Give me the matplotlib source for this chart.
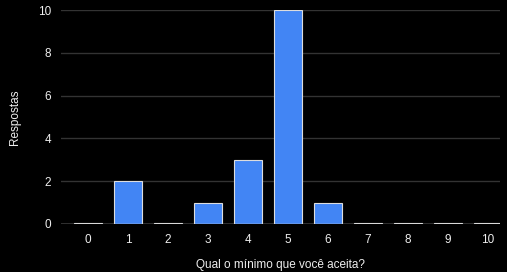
import matplotlib
matplotlib.use("Agg")
import matplotlib.pyplot as plt

categorias = ["0", "1", "2", "3", "4", "5", "6", "7", "8", "9", "10"]
respostas = [0, 2, 0, 1, 3, 10, 1, 0, 0, 0, 0]
yticks = [0, 2, 4, 6, 8, 10]

plt.rcParams['font.family'] = ['Liberation Sans', 'DejaVu Sans']

fig = plt.figure(figsize=(5.07, 2.72), dpi=100, facecolor='black')
ax = fig.add_axes([0.1203, 0.1765, 0.8657, 0.7865], facecolor='black')

x = list(range(len(categorias)))
# zero answers still show as a thin sliver
alturas = [v if v > 0 else 0.05 for v in respostas]
ax.bar(x, alturas, width=0.68, color='#4285f4', edgecolor='#dddddd', linewidth=0.8, zorder=3)

ax.set_xlim(-0.675, 10.3)
ax.set_ylim(0, 10)
ax.set_yticks(yticks)
ax.set_xticks(x)
ax.set_xticklabels(categorias)
ax.grid(axis='y', color='#333333', linewidth=1, zorder=0)
ax.axhline(0, color='#cccccc', linewidth=1, zorder=4)
for s in ax.spines.values():
    s.set_visible(False)
ax.tick_params(colors='#eeeeee', labelsize=8.5, length=0, pad=7)
ax.tick_params(axis='y', pad=7)

ax.set_ylabel('Respostas', color='#eeeeee', fontsize=8.5)
ax.set_xlabel('Qual o mínimo que você aceita?', color='#eeeeee', fontsize=8.5)
ax.yaxis.set_label_coords(-0.105, 0.5)
ax.xaxis.set_label_coords(0.5, -0.19)
ax.xaxis.label.set_va('center')
ax.yaxis.label.set_va('center')

fig.savefig('out.png', dpi=100, facecolor='black')
